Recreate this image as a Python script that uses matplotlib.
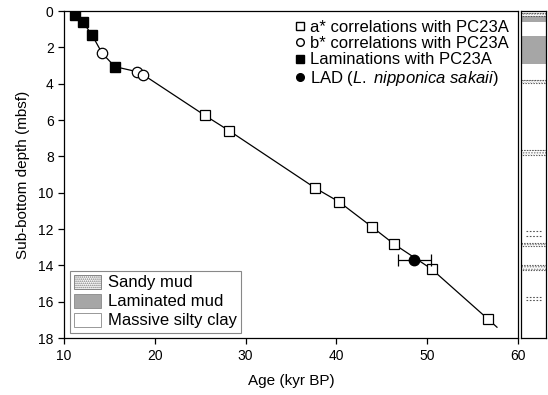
import numpy as np
import matplotlib
matplotlib.use("Agg")
import matplotlib.pyplot as plt
import matplotlib.patches as mpatches
from matplotlib.lines import Line2D

plt.rcParams['font.family'] = ['Liberation Sans', 'DejaVu Sans']
plt.rcParams['mathtext.fontset'] = 'custom'
plt.rcParams['mathtext.rm'] = 'Liberation Sans'
plt.rcParams['mathtext.it'] = 'Liberation Sans:italic'
plt.rcParams['hatch.linewidth'] = 0.8

# --- data ---
# a* correlations (open squares)
a_age = [25.5, 28.2, 37.7, 40.3, 43.9, 46.4, 50.5, 56.7]
a_depth = [5.74, 6.59, 9.75, 10.5, 11.87, 12.84, 14.2, 16.95]
# b* correlations (open circles)
b_age = [14.2, 18.05, 18.7]
b_depth = [2.33, 3.34, 3.5]
# laminations (filled squares)
lam_age = [11.15, 12.05, 13.1, 15.6]
lam_depth = [0.22, 0.59, 1.34, 3.06]
# LAD L. nipponica sakaii
lad_age = [48.6]
lad_depth = [13.7]
lad_err_lo = [1.8]
lad_err_hi = [1.8]

# age model line (ends extrapolated to core top / bottom)
model_age = [10.8, 11.15, 12.05, 13.1, 14.2, 15.6, 18.05, 18.7, 25.5, 28.2,
             37.7, 40.3, 43.9, 46.4, 50.5, 56.7, 57.7]
model_depth = [0.0, 0.22, 0.59, 1.34, 2.33, 3.06, 3.34, 3.5, 5.74, 6.59,
               9.75, 10.5, 11.87, 12.84, 14.2, 16.95, 17.4]

# lithology column (top, bottom in mbsf)
sandy_top = [0.08, 3.82, 7.65, 12.78, 14.0]
sandy_bot = [0.25, 3.95, 7.92, 12.92, 14.25]
thin_sand_top = [12.12, 15.72]
thin_sand_bot = [12.36, 15.92]
lamin_top = [0.27, 1.38]
lamin_bot = [0.58, 2.93]

fig = plt.figure(figsize=(5.48, 3.95), dpi=100)
ax = fig.add_axes([0.117, 0.144, 0.828, 0.828])
strip = fig.add_axes([0.950, 0.144, 0.046, 0.828])

ax.plot(model_age, model_depth, color='black', lw=0.9, zorder=2)
ax.plot(a_age, a_depth, 's', ms=7.5, mfc='white', mec='black', mew=0.9, ls='none', zorder=3)
ax.plot(b_age, b_depth, 'o', ms=7.5, mfc='white', mec='black', mew=0.9, ls='none', zorder=3)
ax.plot(lam_age, lam_depth, 's', ms=7, mfc='black', mec='black', ls='none', zorder=3)
ax.errorbar(lad_age, lad_depth, xerr=[lad_err_lo, lad_err_hi], fmt='o', ms=7.5,
            mfc='black', mec='black', ecolor='black', elinewidth=0.9,
            capsize=4, capthick=0.9, zorder=4)

ax.set_xlim(10, 60)
ax.set_ylim(18, 0)
ax.set_xticks(np.arange(10, 61, 10))
ax.set_yticks(np.arange(0, 19, 2))
ax.tick_params(direction='out', length=4, width=0.9, labelsize=10)
for s in ax.spines.values():
    s.set_linewidth(0.9)
ax.set_xlabel("Age (kyr BP)", fontsize=11, labelpad=8)
ax.set_ylabel("Sub-bottom depth (mbsf)", fontsize=11, labelpad=6)

# marker legend (top right)
handles = [
    Line2D([], [], marker='s', ms=5.5, mfc='white', mec='black', ls='none'),
    Line2D([], [], marker='o', ms=5.5, mfc='white', mec='black', ls='none'),
    Line2D([], [], marker='s', ms=5.5, mfc='black', mec='black', ls='none'),
    Line2D([], [], marker='o', ms=5.5, mfc='black', mec='black', ls='none'),
]
labels = ["a* correlations with PC23A", "b* correlations with PC23A",
          "Laminations with PC23A", "LAD ($\\it{L.\\ nipponica\\ sakaii}$)"]
ax.legend(handles, labels, loc='upper right', frameon=False, fontsize=12,
          handletextpad=0.15, handlelength=0.9, labelspacing=0.08,
          borderaxespad=0.12)

# lithology legend (bottom left)
lith_handles = [
    mpatches.Patch(facecolor='white', edgecolor='#777777', hatch='........', lw=0.6),
    mpatches.Patch(facecolor='#a6a6a6', edgecolor='#888888', lw=0.6),
    mpatches.Patch(facecolor='white', edgecolor='#888888', lw=0.6),
]
lith_leg = fig.legend(lith_handles, ["Sandy mud", "Laminated mud", "Massive silty clay"],
                      loc='lower left', bbox_to_anchor=(0.112, 0.137), fontsize=12,
                      fancybox=False, edgecolor='#888888', framealpha=1,
                      handlelength=1.6, handleheight=0.9, handletextpad=0.45,
                      labelspacing=0.2, borderpad=0.25)
lith_leg.get_frame().set_linewidth(0.8)

# lithology strip
strip.set_xlim(0, 1)
strip.set_ylim(18, 0)
strip.set_xticks([])
strip.set_yticks([])
for s in strip.spines.values():
    s.set_linewidth(0.9)
for t, b in zip(lamin_top, lamin_bot):
    strip.add_patch(mpatches.Rectangle((0, t), 1, b - t, facecolor='#a6a6a6',
                                       edgecolor='none'))
dot = (0, (1.2, 1.2))
for t, b in zip(sandy_top, sandy_bot):
    strip.add_patch(mpatches.Rectangle((0, t), 1, b - t, facecolor='white',
                                       edgecolor='#888888', lw=0, hatch='......'))
    strip.hlines([t, b], 0, 1, colors='#555555', lw=0.8, linestyles=[dot, (1.2, (1.2, 1.2))])
for t, b in zip(thin_sand_top, thin_sand_bot):
    strip.hlines([t, b], 0.2, 0.8, colors='#555555', lw=0.8, linestyles=(0, (1.5, 1.5)))

fig.savefig("out.png", dpi=100)
